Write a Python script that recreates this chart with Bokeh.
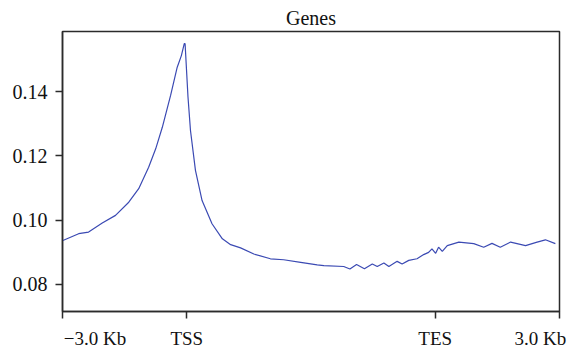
from bokeh.plotting import figure
from bokeh.models import FixedTicker, Range1d, LinearAxis
from bokeh.embed import file_html
from bokeh.resources import INLINE

# Profile of mean signal across scaled gene bodies (kb; TSS = 0, TES = 6)
pos_kb = [-2.99, -2.61, -2.37, -2.04, -1.72, -1.40, -1.16, -0.92, -0.75, -0.59,
          -0.39, -0.23, -0.13, -0.06, -0.04, 0.03, 0.09, 0.21, 0.37, 0.61,
          0.86, 1.06, 1.30, 1.62, 2.02, 2.34, 2.75, 3.15, 3.31, 3.79,
          3.94, 4.10, 4.29, 4.48, 4.60, 4.76, 4.88, 5.08, 5.20, 5.36,
          5.56, 5.72, 5.84, 5.92, 6.01, 6.08, 6.17, 6.29, 6.57, 6.93,
          7.17, 7.37, 7.57, 7.82, 8.18, 8.46, 8.66, 8.90]
signal = [0.0937, 0.0958, 0.0963, 0.0991, 0.1015, 0.1056, 0.1098, 0.1165, 0.1222, 0.1289,
          0.1388, 0.1476, 0.1512, 0.1549, 0.1549, 0.1383, 0.1279, 0.1155, 0.1061, 0.0989,
          0.0942, 0.0924, 0.0914, 0.0895, 0.0880, 0.0877, 0.0869, 0.0861, 0.0859, 0.0856,
          0.0848, 0.0862, 0.0849, 0.0864, 0.0856, 0.0867, 0.0856, 0.0872, 0.0864, 0.0875,
          0.0880, 0.0893, 0.0900, 0.0911, 0.0897, 0.0916, 0.0903, 0.0921, 0.0932, 0.0927,
          0.0916, 0.0928, 0.0916, 0.0932, 0.0921, 0.0932, 0.0939, 0.0927]

x_ticks = [-3, 0, 6, 9]
# label anchors: the end labels sit inward of their tick marks
x_label_pos = [-2.215, 0, 6, 8.54]
x_tick_labels = ["\u22123.0 Kb", "TSS", "TES", "3.0 Kb"]
y_ticks = [0.08, 0.10, 0.12, 0.14]
y_tick_labels = ["0.08", "0.10", "0.12", "0.14"]

FONT = "Liberation Serif"
INK = "#2b2b2b"
TEXT = "#111111"

p = figure(width=568, height=353, output_backend="svg", toolbar_location=None,
           title="Genes", x_axis_location=None,
           min_border_left=62, min_border_right=9,
           min_border_top=31, min_border_bottom=42)
p.x_range = Range1d(-3, 9)
p.y_range = Range1d(0.0716, 0.1587)

p.line(pos_kb, signal, line_color="#3b4ab3", line_width=1.2)

p.title.text_font = FONT
p.title.text_font_size = "20px"
p.title.text_font_style = "normal"
p.title.align = "center"
p.title.vertical_align = "top"
p.title.text_line_height = 0.7
p.title.text_color = TEXT
p.title.standoff = 2

p.grid.visible = False
p.background_fill_color = "white"
p.border_fill_color = "white"
p.outline_line_color = INK
p.outline_line_width = 1.5
p.outline_line_alpha = 1.0

ya = p.yaxis[0]
ya.axis_line_color = INK
ya.axis_line_width = 1.5
ya.major_tick_line_color = INK
ya.major_tick_line_width = 1.5
ya.major_tick_in = 0
ya.major_tick_out = 7
ya.minor_tick_line_color = None
ya.major_label_text_font = FONT
ya.major_label_text_font_size = "20px"
ya.major_label_text_color = TEXT
ya.ticker = FixedTicker(ticks=y_ticks)
ya.major_label_overrides = {t: s for t, s in zip(y_ticks, y_tick_labels)}
ya.major_label_standoff = 8

# bottom axis: tick marks drawn as minor ticks, labels at their own anchors
xa = LinearAxis(ticker=FixedTicker(ticks=x_label_pos, minor_ticks=x_ticks),
                major_label_overrides={t: s for t, s in zip(x_label_pos, x_tick_labels)},
                axis_line_color=INK, axis_line_width=1.5,
                major_tick_line_color=None, major_tick_in=0, major_tick_out=7,
                minor_tick_line_color=INK, minor_tick_line_width=1.5,
                minor_tick_in=0, minor_tick_out=7,
                major_label_standoff=9, major_label_text_font=FONT,
                major_label_text_font_size="19px", major_label_text_color=TEXT)
p.add_layout(xa, "below")

open("out.html", "w").write(file_html(p, INLINE))
